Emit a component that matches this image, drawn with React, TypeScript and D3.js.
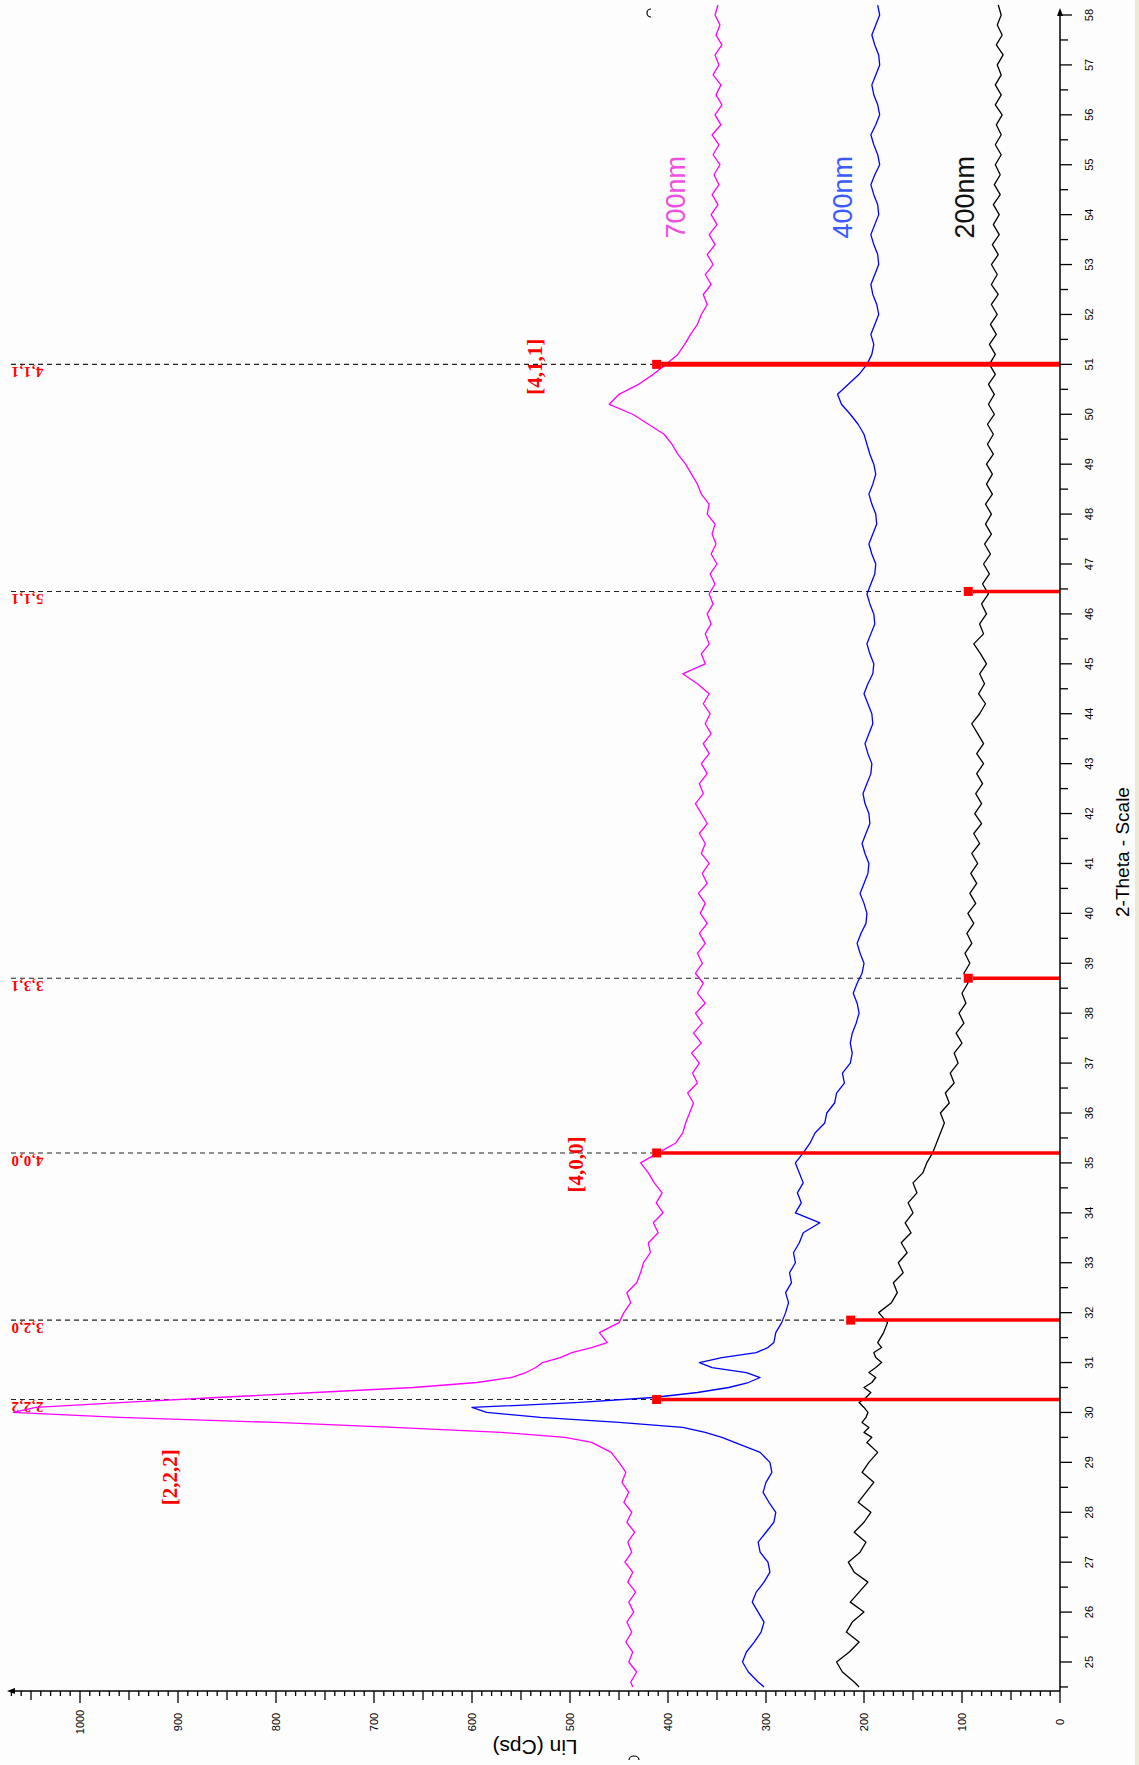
import React from "react";
import * as d3 from "d3";

// 2-theta sampling grid (degrees)
const THETA = [
  24.5, 24.6, 24.8, 25.0, 25.2, 25.4, 25.6, 25.8, 26.0, 26.2,
  26.4, 26.6, 26.8, 27.0, 27.2, 27.4, 27.6, 27.8, 28.0, 28.2,
  28.4, 28.6, 28.8, 29.0, 29.2, 29.4,
  29.5, 29.6, 29.7, 29.8, 29.9, 30.0, 30.1, 30.2, 30.3, 30.4,
  30.5, 30.6, 30.7, 30.8, 30.9, 31.0, 31.1, 31.2, 31.3, 31.4,
  31.6, 31.8, 32.0, 32.2, 32.4, 32.6, 32.8, 33.0, 33.2, 33.4,
  33.6, 33.8, 34.0, 34.2, 34.4, 34.6, 34.8, 35.0, 35.2, 35.4,
  35.6, 35.8, 36.0, 36.2, 36.4, 36.6, 36.8, 37.0, 37.2, 37.4,
  37.6, 37.8, 38.0, 38.2, 38.4, 38.6, 38.8, 39.0, 39.2, 39.4,
  39.6, 39.8, 40.0, 40.2, 40.4, 40.6, 40.8, 41.0, 41.2, 41.4,
  41.6, 41.8, 42.0, 42.2, 42.4, 42.6, 42.8, 43.0, 43.2, 43.4,
  43.6, 43.8, 44.0, 44.2, 44.4, 44.6, 44.8, 45.0, 45.2, 45.4,
  45.6, 45.8, 46.0, 46.2, 46.4, 46.6, 46.8, 47.0, 47.2, 47.4,
  47.6, 47.8, 48.0, 48.2, 48.4, 48.6, 48.8, 49.0, 49.2, 49.4,
  49.6, 49.8, 50.0, 50.2, 50.4, 50.6, 50.8, 51.0, 51.2, 51.4,
  51.6, 51.8, 52.0, 52.2, 52.4, 52.6, 52.8, 53.0, 53.2, 53.4,
  53.6, 53.8, 54.0, 54.2, 54.4, 54.6, 54.8, 55.0, 55.2, 55.4,
  55.6, 55.8, 56.0, 56.2, 56.4, 56.6, 56.8, 57.0, 57.2, 57.4,
  57.6, 57.8, 58.0, 58.2,
];

// Intensity (Lin Cps) – 700 nm film
const S700 = [
  436, 438, 432, 440, 436, 443, 437, 442, 435, 440,
  433, 441, 436, 444, 437, 441, 434, 442, 437, 445,
  440, 447, 443, 450, 458, 478,
  505, 570, 680, 800, 960, 1068, 1045, 955, 860, 760,
  660, 595, 560, 545, 535, 528, 510, 498, 478, 462,
  470, 450, 445, 438, 442, 432, 428, 425, 418, 420,
  410, 415, 405, 412, 406, 414, 420, 428, 410, 392,
  385, 382, 378, 374, 380, 370, 375, 368, 376, 366,
  374, 365, 372, 362, 370, 364, 372, 365, 370, 362,
  368, 360, 367, 362, 369, 360, 365, 358, 366, 362,
  368, 360, 366, 372, 364, 368, 360, 366, 358, 364,
  356, 362, 357, 364, 358, 370, 385, 362, 366, 358,
  362, 356, 360, 354, 358, 352, 357, 350, 356, 351,
  355, 352, 360, 358, 366, 370, 376, 382, 390, 396,
  404, 420, 436, 460, 450, 430, 415, 402, 390, 383,
  377, 370, 366, 360, 364, 356, 362, 354, 360, 352,
  358, 350, 356, 349, 355, 348, 353, 347, 354, 348,
  355, 346, 352, 345, 351, 346, 354, 348, 352, 345,
  351, 347, 352, 349,
];

// Intensity – 400 nm film
const S400 = [
  302, 308, 318, 324, 320, 312, 305, 302, 308, 314,
  310, 302, 296, 298, 306, 308, 300, 292, 290, 297,
  303, 300, 294, 296, 306, 332,
  345, 362, 385, 450, 530, 585, 600, 490, 415, 370,
  338, 318, 306, 320, 355, 368, 345, 310, 298, 292,
  290, 284, 280, 277, 280, 274, 276, 270, 272, 266,
  262, 245, 270, 264, 268, 262, 266, 270, 262, 255,
  250, 240, 238, 230, 228, 220, 222, 214, 212, 214,
  212, 208, 205, 207, 211, 207, 202, 200, 204, 207,
  203, 198, 197, 200, 204, 200, 196, 195, 199, 202,
  198, 194, 195, 199, 201, 197, 193, 192, 196, 199,
  195, 191, 192, 196, 200, 196, 191, 190, 194, 197,
  193, 189, 190, 194, 197, 193, 189, 188, 192, 195,
  191, 187, 188, 192, 195, 191, 188, 190, 194, 197,
  200, 206, 214, 223, 227, 216, 205, 197, 192, 190,
  193, 189, 185, 187, 191, 193, 189, 185, 186, 190,
  193, 189, 185, 186, 190, 193, 189, 184, 186, 190,
  193, 188, 184, 186, 190, 192, 188, 184, 185, 189,
  192, 188, 184, 186,
];

// Intensity – 200 nm film
const S200 = [
  205, 210, 222, 228, 215, 205, 218, 212, 200, 214,
  205, 196, 210, 216, 204, 198, 210, 200, 193, 206,
  198, 190, 202, 195, 186, 197,
  192, 200, 195, 202, 198, 196, 200, 205, 198, 193,
  200, 192, 188, 195, 188, 182, 188, 190, 182, 186,
  180, 176, 185, 172, 166, 170, 160, 165, 156, 162,
  152, 158, 150, 155, 146, 150, 140, 136, 130, 126,
  122, 118, 122, 113, 117, 108, 112, 104, 108, 100,
  106, 98, 103, 96, 100, 94, 98, 92, 97, 90,
  95, 88, 94, 86, 92, 85, 91, 84, 90, 82,
  88, 80, 87, 80, 86, 79, 85, 78, 85, 78,
  84, 90, 82, 76, 83, 77, 82, 75, 81, 88,
  78, 82, 75, 80, 73, 79, 72, 78, 71, 77,
  70, 76, 70, 76, 69, 75, 69, 75, 68, 74,
  68, 74, 67, 73, 67, 73, 66, 72, 66, 72,
  65, 71, 64, 70, 63, 70, 64, 70, 63, 69,
  62, 68, 62, 68, 61, 67, 61, 66, 60, 66,
  60, 65, 59, 66, 60, 66, 60, 64, 58, 65,
  59, 64, 60, 63,
];

const SERIES_NAMES = ["700nm", "400nm", "200nm"];
const SERIES_COLORS = ["#ff00ff", "#0000ff", "#000000"];
const SERIES_LABEL_COLORS = ["#f050e0", "#3a5cff", "#111111"];
const SERIES_LABEL_THETA = [54.35, 54.35, 54.35];
const SERIES_LABEL_INT = [392, 222, 97];

// Reference pattern sticks
const STICK_THETA = [30.26, 31.85, 35.2, 38.7, 46.45, 51.0];
const STICK_INT = [407, 209, 407, 89, 89, 407];
const STICK_HKL = ["2,2,2", "3,2,0", "4,0,0", "3,3,1", "5,1,1", "4,1,1"];

// Peak annotations
const PEAK_LABELS = ["[2,2,2]", "[4,0,0]", "[4,1,1]"];
const PEAK_LABEL_THETA = [28.7, 34.97, 50.95];
const PEAK_LABEL_INT = [909, 494, 536];

const THETA_TICKS = d3.range(25, 59);
const INT_TICKS = d3.range(0, 1001, 100);

const W = 1139;
const H = 1765;

export default function App() {
  // rotated chart: 2-theta runs upward on the right, intensity runs leftward at the bottom
  const yT = d3.scaleLinear().domain([25, 58]).range([1662, 15]);
  const xI = d3.scaleLinear().domain([0, 1000]).range([1060, 80]);
  const axisX = xI(0);
  const axisY = 1691;

  const series = [S700, S400, S200];
  const line = d3
    .line<number>()
    .x((d) => xI(d))
    .y((_, i) => yT(THETA[i]));

  const minorT = d3.range(24.5, 58, 1);
  const intTicks = d3.range(0, 1071, 10);

  return (
    <svg
      width={W}
      height={H}
      style={{ position: "absolute", left: 0, top: 0, display: "block" }}
      fontFamily="'Liberation Sans', Arial, sans-serif"
    >
      <rect x={0} y={0} width={W} height={H} fill="#fdfdfd" />
      <rect x={1135} y={0} width={4} height={H} fill="#ece9d8" />

      {/* dashed reference lines + labels */}
      {STICK_THETA.map((t, i) => {
        const y = yT(t);
        const xe = xI(STICK_INT[i]);
        return (
          <g key={"d" + i}>
            <line
              x1={11}
              x2={xe - 9}
              y1={y}
              y2={y}
              stroke="#222"
              strokeWidth={1.1}
              strokeDasharray="5,4"
            />
            <text
              transform={`translate(11,${y + 3}) rotate(180)`}
              textAnchor="end"
              fontSize={15}
              fontWeight="bold"
              letterSpacing={0.5}
              fontFamily="'Liberation Serif', serif"
              fill="#ff0000"
            >
              {STICK_HKL[i]}
            </text>
          </g>
        );
      })}

      {/* data curves */}
      {series.map((s, k) => (
        <path
          key={"s" + k}
          d={line(s) || ""}
          fill="none"
          stroke={SERIES_COLORS[k]}
          strokeWidth={1.3}
          strokeLinejoin="round"
        />
      ))}

      {/* sticks */}
      {STICK_THETA.map((t, i) => {
        const y = yT(t);
        const xe = xI(STICK_INT[i]);
        return (
          <g key={"st" + i}>
            <line
              x1={axisX}
              x2={xe}
              y1={y}
              y2={y}
              stroke="#ff0000"
              strokeWidth={i === 5 ? 5 : 3.5}
            />
            <rect x={xe - 9} y={y - 4.5} width={9} height={9} fill="#ff0000" />
          </g>
        );
      })}

      {/* series labels */}
      {SERIES_NAMES.map((n, k) => (
        <text
          key={"n" + k}
          transform={`translate(${xI(SERIES_LABEL_INT[k])},${yT(
            SERIES_LABEL_THETA[k]
          )}) rotate(-90)`}
          textAnchor="middle"
          dy="0.35em"
          fontSize={27}
          fill={SERIES_LABEL_COLORS[k]}
        >
          {n}
        </text>
      ))}

      {/* peak labels */}
      {PEAK_LABELS.map((p, k) => (
        <text
          key={"p" + k}
          transform={`translate(${xI(PEAK_LABEL_INT[k])},${yT(
            PEAK_LABEL_THETA[k]
          )}) rotate(-90)`}
          textAnchor="middle"
          dy="0.35em"
          fontSize={21}
          fontWeight="bold"
          fontFamily="'Liberation Serif', serif"
          fill="#ff0000"
        >
          {p}
        </text>
      ))}

      {/* 2-theta axis */}
      <line x1={axisX} x2={axisX} y1={axisY} y2={12} stroke="#000" strokeWidth={1.5} />
      <path d={`M${axisX - 3},${16} L${axisX},${8} L${axisX + 3},${16} Z`} fill="#000" />
      {THETA_TICKS.map((t) => (
        <g key={"tt" + t}>
          <line x1={axisX} x2={axisX + 12} y1={yT(t)} y2={yT(t)} stroke="#000" strokeWidth={1.3} />
          <text
            transform={`translate(${axisX + 29},${yT(t)}) rotate(-90)`}
            textAnchor="middle"
            dy="0.35em"
            fontSize={11}
            fill="#000"
          >
            {t}
          </text>
        </g>
      ))}
      {minorT.map((t) => (
        <line key={"mt" + t} x1={axisX} x2={axisX + 8} y1={yT(t)} y2={yT(t)} stroke="#000" strokeWidth={1.3} />
      ))}
      <text
        transform={`translate(1122,852) rotate(-90)`}
        textAnchor="middle"
        dy="0.35em"
        fontSize={19}
        fill="#000"
      >
        2-Theta - Scale
      </text>

      {/* intensity axis */}
      <line x1={axisX} x2={11} y1={axisY} y2={axisY} stroke="#000" strokeWidth={1.5} />
      <path d={`M${7},${axisY} L${15},${axisY - 3} L${15},${axisY + 3} Z`} fill="#000" />
      {intTicks.map((v) => (
        <line
          key={"it" + v}
          x1={xI(v)}
          x2={xI(v)}
          y1={axisY}
          y2={axisY + (v % 100 === 0 ? 12 : v % 50 === 0 ? 9 : 5)}
          stroke="#000"
          strokeWidth={1.3}
        />
      ))}
      {INT_TICKS.map((v) => (
        <text
          key={"il" + v}
          transform={`translate(${xI(v)},${1722}) rotate(-90)`}
          textAnchor="middle"
          dy="0.35em"
          fontSize={11}
          fill="#000"
        >
          {v}
        </text>
      ))}
      <text
        transform={`translate(535,1747) rotate(180)`}
        textAnchor="middle"
        dy="0.35em"
        fontSize={21}
        fill="#000"
      >
        Lin (Cps)
      </text>

      {/* stray glyph fragments at the picture edges */}
      <path d="M651,9 A4,4 0 1,0 651,17" fill="none" stroke="#000" strokeWidth={1.2} />
      <path d="M629,1760 A5,4 0 0,1 639,1760" fill="none" stroke="#000" strokeWidth={1.2} />
    </svg>
  );
}
